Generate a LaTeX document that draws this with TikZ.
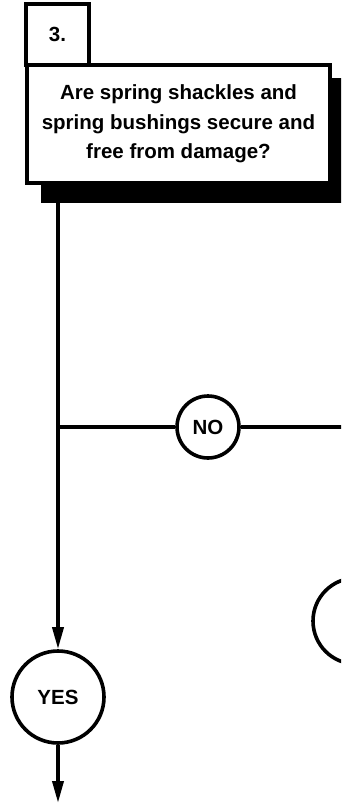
\documentclass[tikz,border=0pt]{standalone}
\usepackage{fontspec}
\setmainfont{Liberation Sans}
\usetikzlibrary{arrows.meta}
\begin{document}
\begin{tikzpicture}[x=1pt,y=-1pt,
  every node/.style={font=\bfseries\fontsize{20.5}{29.5}\selectfont},
  boxnode/.style={draw=black,line width=4pt,fill=white,inner sep=0pt,align=center},
  ynnode/.style={draw=black,line width=3.6pt,circle,fill=white,inner sep=0pt},
  conn/.style={line width=3.6pt},
  arr/.style={line width=3.6pt,-{Triangle[length=22pt,width=11pt]}}]
\useasboundingbox (0,0) rectangle (341,804);
\clip (0,0) rectangle (341,804);
% shadow
\fill[black] (41,78) rectangle (350,203);
\node[boxnode,minimum width=63pt,minimum height=61pt] (num) at (57.5,34.5) {3.};
\node[boxnode,minimum width=303pt,minimum height=118pt] (q) at (178.5,124) {\raisebox{-4.5pt}{\parbox{300pt}{\centering Are spring shackles and\\spring bushings secure and\\free from damage?}}};
\node[ynnode,minimum size=92pt] (yes) at (58,697) {YES};
\node[ynnode,minimum size=62pt] (no) at (208,427) {NO};
\node[ynnode,minimum size=86pt] (next) at (356,621) {};
\coordinate (j) at (58,427);
\coordinate (e) at (350,427);
\coordinate (bot) at (58,803);
\draw[arr] (q.south -| yes.north) -- (yes.north);
\draw[conn] (j) -- (no.west);
\draw[conn] (no.east) -- (e);
\draw[arr] (yes.south) -- (bot);
\end{tikzpicture}
\end{document}
